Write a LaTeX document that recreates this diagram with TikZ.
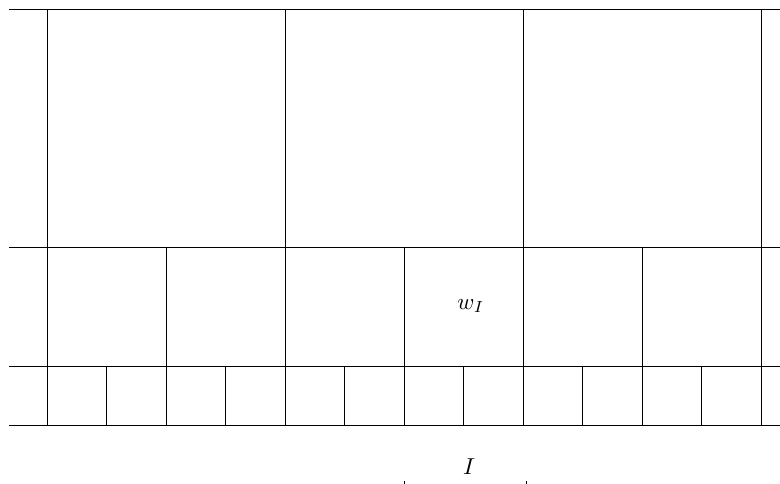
\documentclass[tikz,border=0pt]{standalone}
\begin{document}
\begin{tikzpicture}[x=1pt,y=-1pt,
  gridline/.style={line width=0.9pt, black},
  lbl/.style={inner sep=0pt, scale=2.3}]
\useasboundingbox (0,0) rectangle (780,483);
% horizontal lines
\coordinate (h1l) at (9,9);   \coordinate (h1r) at (780,9);
\coordinate (h2l) at (9,247); \coordinate (h2r) at (780,247);
\coordinate (h3l) at (9,366); \coordinate (h3r) at (780,366);
\coordinate (h4l) at (9,425); \coordinate (h4r) at (780,425);
\draw[gridline] (h1l) -- (h1r);
\draw[gridline] (h2l) -- (h2r);
\draw[gridline] (h3l) -- (h3r);
\draw[gridline] (h4l) -- (h4r);
% top-level verticals
\foreach \x in {47,285,523,761} {\draw[gridline] (\x,9) -- (\x,425);}
% middle-level verticals
\foreach \x in {166,404,642} {\draw[gridline] (\x,247) -- (\x,425);}
% bottom-level verticals
\foreach \x in {106.5,225.5,344.5,463.5,582.5,701.5} {\draw[gridline] (\x,366) -- (\x,425);}
% labels
\node[lbl] (w) at (471,306) {$w_I$};
\node[lbl] (I) at (469,467) {$I$};
% ticks
\coordinate (t1a) at (404,481); \coordinate (t1b) at (404,484);
\coordinate (t2a) at (526.5,481); \coordinate (t2b) at (526.5,484);
\draw[line width=0.9pt] (t1a) -- (t1b);
\draw[line width=0.9pt] (t2a) -- (t2b);
\end{tikzpicture}
\end{document}
